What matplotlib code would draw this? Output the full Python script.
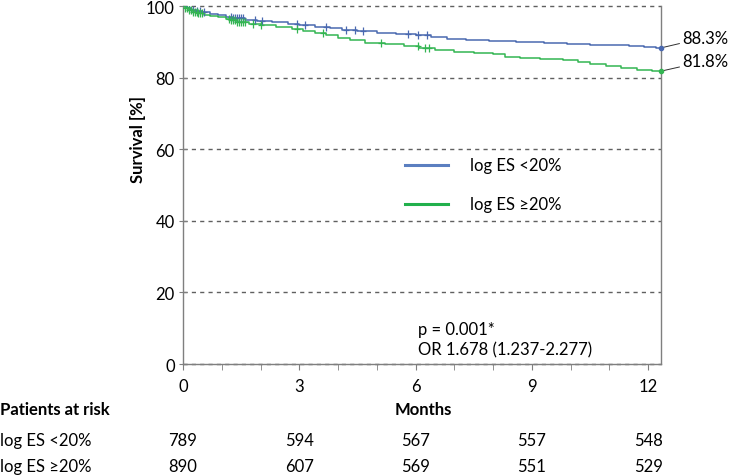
import numpy as np
import matplotlib
matplotlib.use("Agg")
import matplotlib.pyplot as plt
from matplotlib import transforms

plt.rcParams['font.family'] = ['Lato', 'DejaVu Sans']

# ---- data ----
groups = ["log ES <20%", "log ES \u226520%"]
blue_t = [0, 0.1, 0.2, 0.35, 0.5, 0.7, 0.9, 1.1, 1.3, 1.6, 1.9, 2.3, 2.7, 3.0, 3.4, 3.8, 4.1, 4.5, 5.0,
          5.5, 6.0, 6.4, 6.8, 7.3, 7.9, 8.6, 9.3, 9.9, 10.5, 11.0, 11.5, 11.9, 12.2]
blue_s = [100, 99.5, 99.0, 98.6, 98.2, 97.8, 97.4, 97.0, 96.6, 96.2, 95.8, 95.4, 95.0, 94.6, 94.2, 93.8,
          93.3, 92.9, 92.6, 92.3, 91.8, 91.3, 90.9, 90.6, 90.3, 89.9, 89.7, 89.5, 89.2, 89.0, 88.8, 88.6, 88.3]
green_t = [0, 0.05, 0.15, 0.25, 0.4, 0.55, 0.7, 0.9, 1.1, 1.25, 1.4, 1.7, 2.0, 2.4, 2.8, 3.1, 3.4, 3.7,
           4.0, 4.3, 4.7, 5.2, 5.7, 6.1, 6.5, 7.0, 7.5, 8.0, 8.3, 8.7, 9.2, 9.8, 10.2, 10.5, 10.9, 11.3, 11.7, 12.1]
green_s = [100, 99.4, 98.8, 98.4, 98.0, 97.6, 97.2, 96.8, 96.4, 96.0, 95.5, 95.1, 94.6, 94.1, 93.6, 93.1,
           92.5, 91.8, 91.1, 90.4, 89.8, 89.3, 88.8, 88.2, 87.7, 87.2, 86.9, 86.6, 85.8, 85.4, 85.1, 84.8,
           84.5, 83.8, 83.3, 82.7, 82.2, 81.8]
blue_cens = [0.15, 0.25, 0.35, 0.45, 0.55, 1.25, 1.3, 1.35, 1.4, 1.45, 1.5, 1.55, 1.85, 2.05, 2.95, 3.15,
             3.7, 4.2, 4.45, 4.65, 5.8, 6.05, 6.3]
green_cens = [0.05, 0.1, 0.15, 0.2, 0.25, 0.3, 0.35, 0.4, 0.45, 0.5, 1.2, 1.25, 1.3, 1.35, 1.4, 1.45, 1.5,
              1.55, 1.6, 1.8, 2.0, 2.95, 3.6, 5.1, 6.05, 6.25, 6.35]
t_end = 12.33
final_labels = ["88.3%", "81.8%"]
risk_times = [0, 3, 6, 9, 12]
risk_blue = [789, 594, 567, 557, 548]
risk_green = [890, 607, 569, 551, 529]
p_text = "p = 0.001*\nOR 1.678 (1.237-2.277)"

BLUE = "#4a69b0"
GREEN = "#33b552"
GRAY = "#7f7f7f"
FS = 12

fig = plt.figure(figsize=(7.31, 4.77), dpi=100)
ax = fig.add_axes([0.2503, 0.2348, 0.9042 - 0.2503, 0.9853 - 0.2348])
ax.set_xlim(0, t_end)
ax.set_ylim(0, 100)

for yv in [0, 20, 40, 60, 80, 100]:
    ax.axhline(yv, color="#606060", lw=1.0, ls=(0, (3, 3)), zorder=1, clip_on=False)

def surv_at(ts, ss, x):
    i = np.searchsorted(ts, x, side='right') - 1
    return np.array(ss)[i]

for ts, ss, cens, col in [(blue_t, blue_s, blue_cens, BLUE), (green_t, green_s, green_cens, GREEN)]:
    xs = list(ts) + [t_end]
    ys = list(ss) + [ss[-1]]
    ax.step(xs, ys, where='post', color=col, lw=1.1, zorder=3)
    cy = surv_at(np.array(ts), ss, np.array(cens))
    ax.plot(cens, cy, ls='none', marker='|', ms=6, mew=0.9, color=col, zorder=4)
    ax.plot(cens, cy, ls='none', marker='_', ms=5, mew=0.9, color=col, zorder=4)
    ax.plot([t_end], [ss[-1]], 'o', ms=3, color=col, zorder=5, clip_on=False)

# end annotations
for ss, lab, ty in [(blue_s, final_labels[0], 91.2), (green_s, final_labels[1], 84.6)]:
    ax.annotate(lab, xy=(t_end, ss[-1]), xytext=(t_end + 0.55, ty), textcoords='data',
                fontsize=FS, va='center', ha='left', annotation_clip=False,
                arrowprops=dict(arrowstyle='-', color='#303030', lw=0.7, shrinkA=0, shrinkB=0))

# legend (drawn in data space)
ax.plot([5.73, 6.84], [55.6, 55.6], color="#5b7fc0", lw=2.2)
ax.plot([5.73, 6.84], [44.7, 44.7], color="#22b04c", lw=2.2)
ax.text(7.4, 55.6, groups[0], fontsize=FS, va='center', ha='left')
ax.text(7.4, 44.7, groups[1], fontsize=FS, va='center', ha='left')

ax.text(6.06, 6.9, p_text, fontsize=FS, va='center', ha='left', linespacing=1.3)

# spines & ticks
ax.spines['top'].set_visible(False)
for s in ['left', 'bottom', 'right']:
    ax.spines[s].set_color(GRAY)
    ax.spines[s].set_linewidth(1.0)
ax.set_xticks(risk_times)
ax.set_xticks(range(0, 13), minor=True)
ax.set_yticks([0, 20, 40, 60, 80, 100])
ax.tick_params(axis='x', which='both', direction='out', length=4, color=GRAY, labelsize=FS, pad=6)
ax.tick_params(axis='y', direction='inout', length=6, color=GRAY, labelsize=FS, pad=3)
ax.set_ylabel("Survival [%]", fontsize=FS, fontweight='bold')
ax.yaxis.set_label_coords(-0.078, 0.63)

# risk table
trans = transforms.blended_transform_factory(ax.transData, fig.transFigure)
fig.text(0.0, 0.1405, "Patients at risk", fontsize=FS, fontweight='bold', va='center', ha='left')
ax.text(6.2, 0.1405, "Months", transform=trans, fontsize=FS, fontweight='bold', va='center', ha='center')
fig.text(0.0, 0.0755, groups[0], fontsize=FS, va='center', ha='left')
fig.text(0.0, 0.021, groups[1], fontsize=FS, va='center', ha='left')
for t, nb, ng in zip(risk_times, risk_blue, risk_green):
    ax.text(t, 0.0755, str(nb), transform=trans, fontsize=FS, va='center', ha='center')
    ax.text(t, 0.021, str(ng), transform=trans, fontsize=FS, va='center', ha='center')

fig.savefig("out.png", dpi=100)
